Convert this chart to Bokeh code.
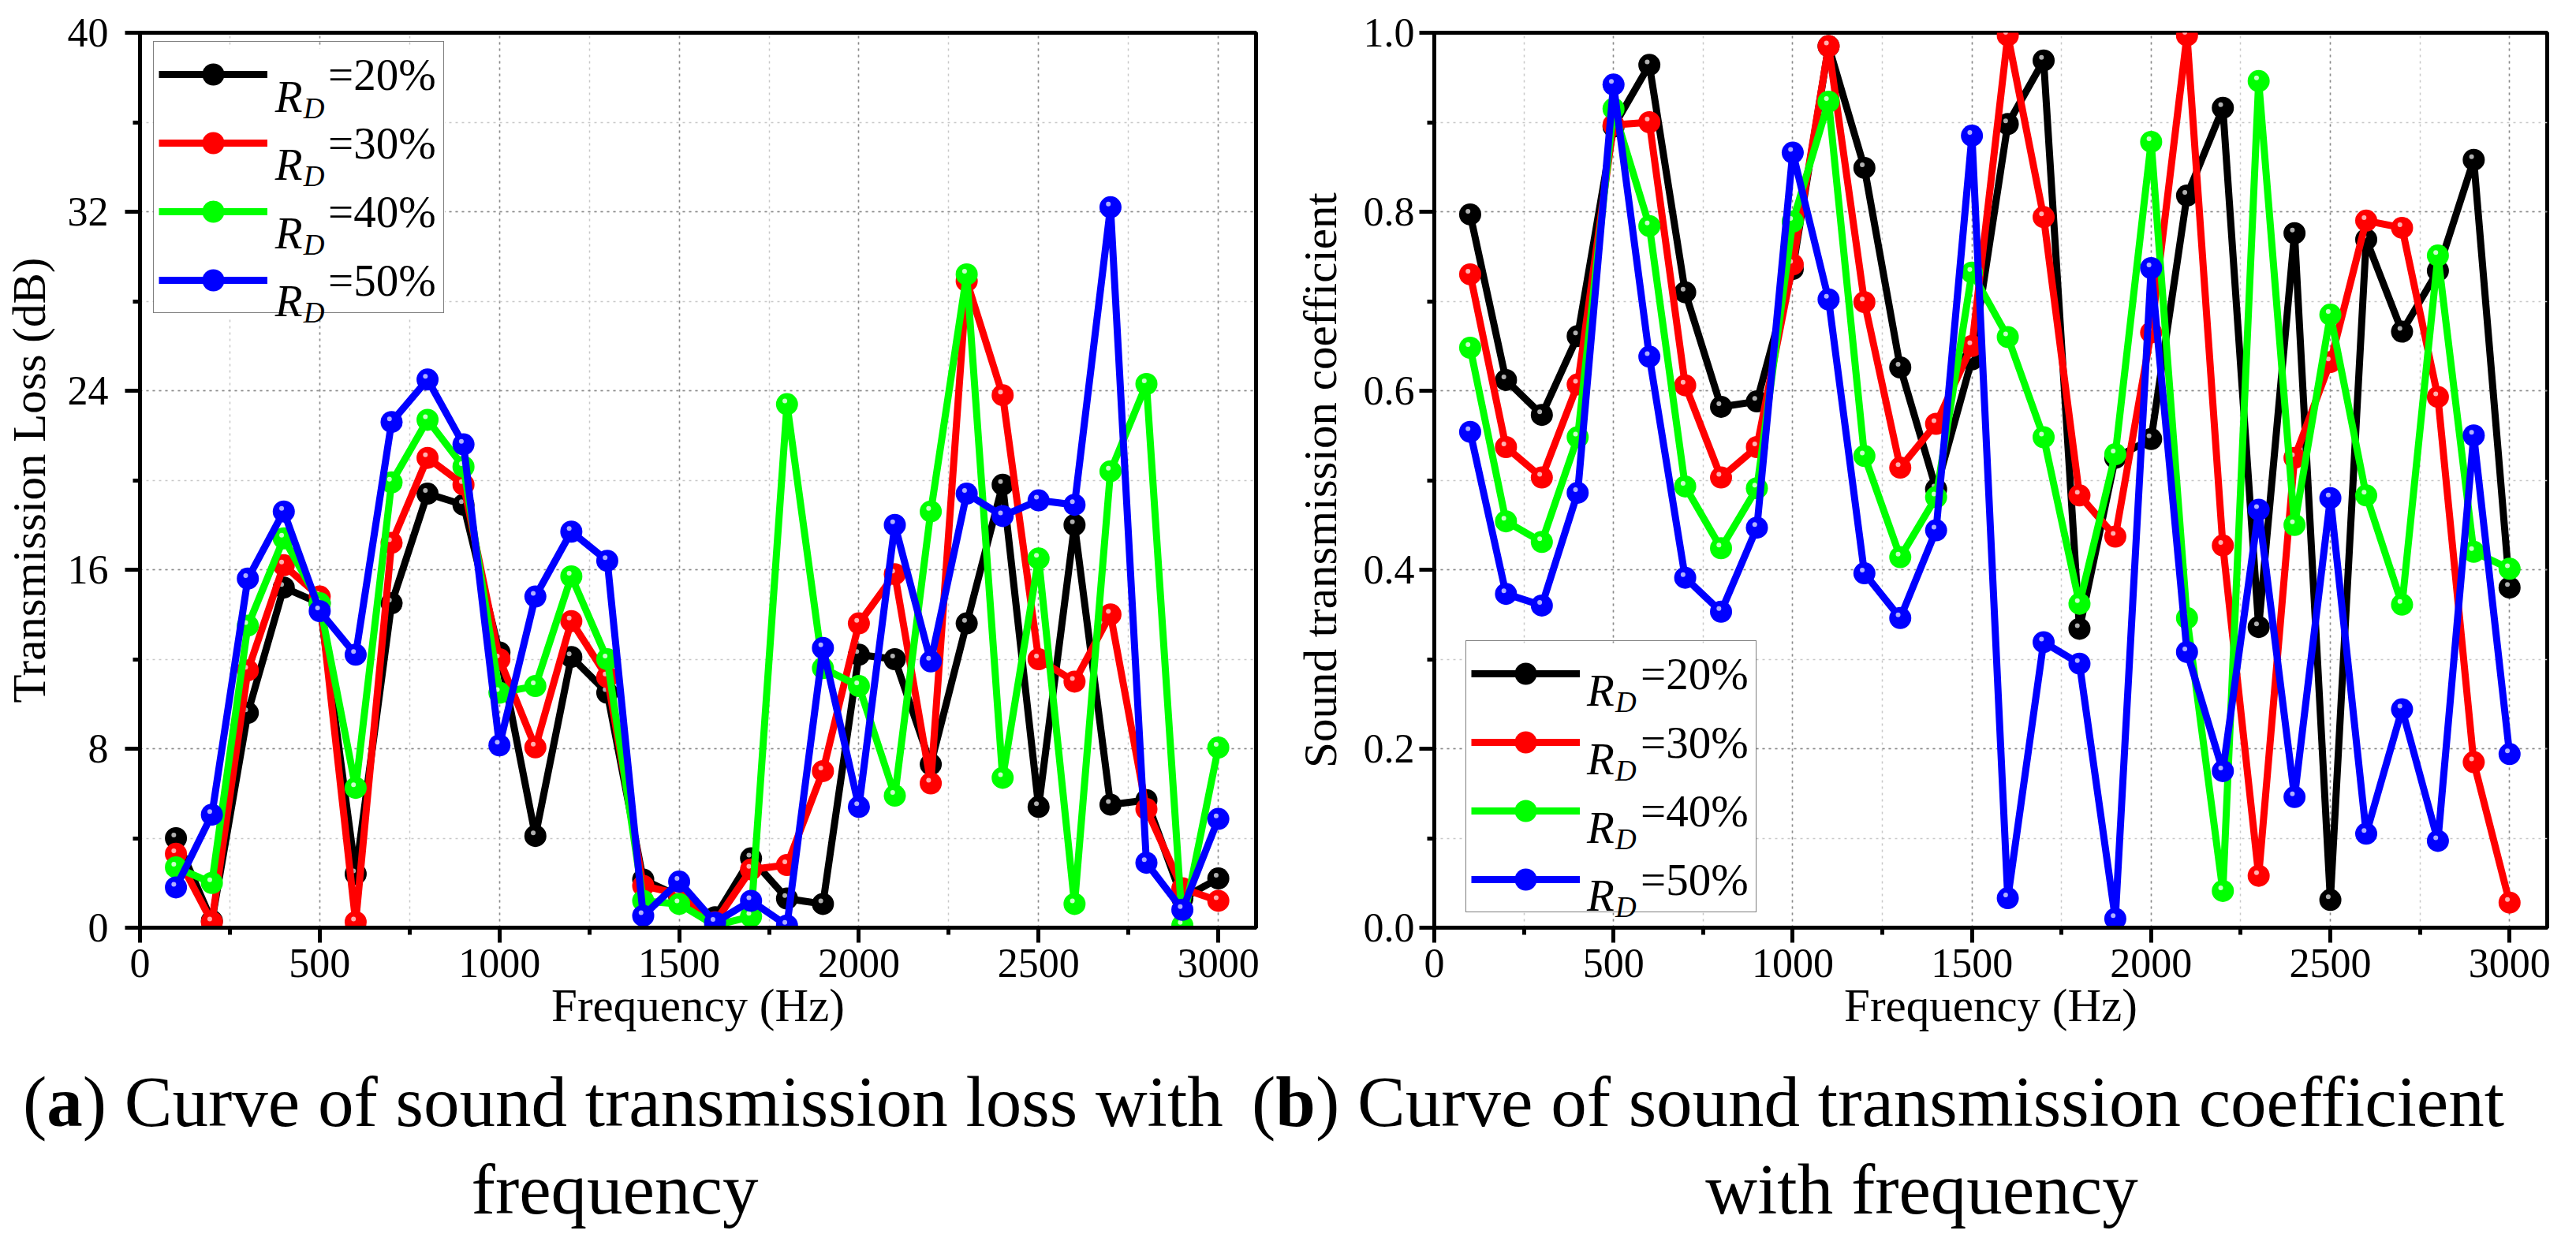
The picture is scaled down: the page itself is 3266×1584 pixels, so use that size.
from bokeh.plotting import figure
from bokeh.models import (Range1d, SingleIntervalTicker, Legend, LegendItem, Label, Div,
                          PrintfTickFormatter, BoxAnnotation)
from bokeh.layouts import row, column
from bokeh.embed import file_html
from bokeh.resources import INLINE

# frequency (Hz)
freq = [100, 200, 300, 400, 500, 600, 700, 800, 900, 1000, 1100, 1200, 1300, 1400, 1500,
        1600, 1700, 1800, 1900, 2000, 2100, 2200, 2300, 2400, 2500, 2600, 2700, 2800, 2900, 3000]

# (a) transmission loss (dB)
tl_20 = [4.0, 0.3, 9.6, 15.2, 14.5, 2.4, 14.5, 19.4, 18.9, 12.3, 4.1, 12.1, 10.5, 2.15, 1.4,
         0.47, 3.1, 1.3, 1.06, 12.2, 12.0, 7.3, 13.6, 19.8, 5.4, 18.0, 5.5, 5.7, 1.3, 2.2]
tl_30 = [3.3, 0.25, 11.5, 16.2, 14.8, 0.25, 17.2, 21.0, 19.8, 12.0, 8.06, 13.7, 11.2, 1.87, 1.5,
         0.25, 2.6, 2.8, 7.0, 13.6, 15.8, 6.45, 28.9, 23.8, 12.0, 11.0, 14.0, 5.3, 1.76, 1.2]
tl_40 = [2.7, 2.0, 13.5, 17.4, 14.5, 6.25, 19.9, 22.7, 20.6, 10.5, 10.8, 15.7, 12.0, 1.2, 1.06,
         0.1, 0.5, 23.4, 11.6, 10.8, 5.9, 18.6, 29.2, 6.7, 16.5, 1.06, 20.4, 24.3, 0.1, 8.05]
tl_50 = [1.8, 5.05, 15.6, 18.6, 14.15, 12.2, 22.6, 24.5, 21.6, 8.15, 14.8, 17.7, 16.4, 0.53, 2.06,
         0.23, 1.2, 0.1, 12.5, 5.4, 18.0, 11.9, 19.4, 18.4, 19.1, 18.9, 32.2, 2.9, 0.8, 4.86]

# (b) sound transmission coefficient
tc_20 = [0.797, 0.612, 0.573, 0.661, 0.895, 0.964, 0.710, 0.582, 0.588, 0.736, 0.985, 0.849, 0.626, 0.49, 0.635,
         0.898, 0.969, 0.334, 0.525, 0.546, 0.818, 0.916, 0.336, 0.776, 0.031, 0.769, 0.666, 0.734, 0.858, 0.380]
tc_30 = [0.730, 0.537, 0.503, 0.607, 0.897, 0.900, 0.606, 0.503, 0.537, 0.741, 0.985, 0.699, 0.514, 0.563, 0.650,
         0.997, 0.794, 0.483, 0.437, 0.665, 0.997, 0.427, 0.058, 0.525, 0.632, 0.790, 0.782, 0.593, 0.185, 0.028]
tc_40 = [0.648, 0.454, 0.431, 0.548, 0.915, 0.784, 0.493, 0.424, 0.491, 0.789, 0.923, 0.527, 0.414, 0.481, 0.732,
         0.660, 0.548, 0.362, 0.529, 0.878, 0.346, 0.041, 0.946, 0.450, 0.685, 0.483, 0.361, 0.751, 0.420, 0.401]
tc_50 = [0.554, 0.373, 0.360, 0.486, 0.942, 0.638, 0.391, 0.353, 0.447, 0.866, 0.702, 0.396, 0.346, 0.444, 0.885,
         0.033, 0.319, 0.295, 0.010, 0.737, 0.308, 0.175, 0.467, 0.146, 0.480, 0.105, 0.244, 0.097, 0.550, 0.194]

ratios = ["=20%", "=30%", "=40%", "=50%"]
colors = ["#000000", "#ff0000", "#00ff00", "#0000ff"]
shines = ["#b0b0b0", "#ffb0b0", "#c8ffc8", "#b0b0ff"]

SERIF = "Liberation Serif"


def make_panel(series, y_end, y_step, width, height, borders, tick_standoff, title_standoff,
               ylabel, shift):
    left, right, top, bottom = borders
    p = figure(width=width, height=height, output_backend="svg", toolbar_location=None,
               x_range=Range1d(0, 3105), y_range=Range1d(0, y_end),
               min_border_left=left, min_border_right=right,
               min_border_top=top, min_border_bottom=bottom)
    p.outline_line_color = "black"
    p.outline_line_width = 5
    p.xaxis.ticker = SingleIntervalTicker(interval=500, num_minor_ticks=2)
    p.yaxis.ticker = SingleIntervalTicker(interval=y_step, num_minor_ticks=2)
    p.xaxis.axis_label = "Frequency (Hz)"
    p.yaxis.axis_label = ylabel
    for ax in (p.xaxis[0], p.yaxis[0]):
        ax.axis_line_width = 5
        ax.major_tick_line_width = 5
        ax.minor_tick_line_width = 5
        ax.major_tick_in = 0
        ax.major_tick_out = 19
        ax.minor_tick_in = 0
        ax.minor_tick_out = 9
        ax.major_label_text_font = SERIF
        ax.major_label_text_font_style = "normal"
        ax.major_label_text_font_size = "52px"
        ax.major_label_text_color = "black"
        ax.axis_label_text_font = SERIF
        ax.axis_label_text_font_size = "59px"
        ax.axis_label_text_font_style = "normal"
        ax.axis_label_text_color = "black"
    p.xaxis.major_label_standoff = 8
    p.xaxis.axis_label_standoff = 0
    p.yaxis.major_label_standoff = tick_standoff
    p.yaxis.axis_label_standoff = title_standoff
    for g in (p.xgrid[0], p.ygrid[0]):
        g.grid_line_color = "#8a8a8a"
        g.grid_line_dash = "3 5"
        g.grid_line_width = 1.5
        g.minor_grid_line_color = "#c8c8c8"
        g.minor_grid_line_dash = "3 5"
        g.minor_grid_line_width = 1.5

    items = []
    for ys, ratio, c, s in zip(series, ratios, colors, shines):
        r_line = p.line(freq, ys, line_color=c, line_width=9)
        r_dot = p.scatter(freq, ys, size=28, fill_color=c, line_color=None)
        hx = [f - 6 for f in freq]
        hy = [v + shift for v in ys]
        p.scatter(hx, hy, size=6, fill_color=s, line_color=None)
        items.append(LegendItem(label=ratio, renderers=[r_line, r_dot]))
    return p, items


def add_legend(p, items, loc, box, rx, ry, dy):
    # white panel behind the legend, so the R_D labels stay visible on top of it
    p.add_layout(BoxAnnotation(left=box[0], right=box[1], bottom=box[2], top=box[3],
                               fill_color="white", fill_alpha=1, line_color=None))
    leg = Legend(items=items, location=loc, orientation="vertical",
                 glyph_width=138, glyph_height=70, label_height=70, label_width=140,
                 label_standoff=77, spacing=17, padding=6, margin=0,
                 border_line_color="black", border_line_width=1.5,
                 background_fill_alpha=0,
                 label_text_font=SERIF, label_text_font_size="57px",
                 label_text_color="black")
    p.add_layout(leg)
    for k in range(len(items)):
        y = ry - k * dy
        p.add_layout(Label(x=rx, y=y, text="R", text_font=SERIF, text_font_size="57px",
                           text_font_style="italic", text_baseline="alphabetic",
                           text_color="black"))
        p.add_layout(Label(x=rx, y=y, x_offset=36, y_offset=-15, text="D", text_font=SERIF,
                           text_font_size="37px", text_font_style="italic",
                           text_baseline="alphabetic", text_color="black"))


pa, items_a = make_panel([tl_20, tl_30, tl_40, tl_50], 40, 8, 1637, 1342,
                         (172, 45, 34, 166), 21, 13, "Transmission Loss (dB)", 0.14)
add_legend(pa, items_a, (17, 779), (37, 848, 27.3, 39.3), 376, 37.16, 3.047)

pb, items_b = make_panel([tc_20, tc_30, tc_40, tc_50], 1, 0.2, 1613, 1342,
                         (172, 21, 41, 161), 6, 19, "Sound transmission coefficient", 0.0035)
pb.yaxis.formatter = PrintfTickFormatter(format="%.1f")
add_legend(pb, items_b, (40, 19), (87, 898, 0.0167, 0.318), 426, 0.2649, 0.0763)

font_css = "font-family:'Liberation Serif';font-size:91px;line-height:111px;color:black;white-space:nowrap;"
cap_a = Div(text=('<div style="%s box-sizing:border-box;width:1587px;padding-left:29px;text-align:left;">'
                  '(<b>a</b>) Curve of sound transmission loss with</div>'
                  '<div style="%s box-sizing:border-box;width:1587px;padding-right:28px;text-align:center;">'
                  'frequency</div>') % (font_css, font_css),
            width=1587, height=226, margin=(0, 0, 0, 0))
cap_b = Div(text=('<div style="%s box-sizing:border-box;width:1663px;padding-left:0px;text-align:left;">'
                  '(<b>b</b>) Curve of sound transmission coefficient</div>'
                  '<div style="%s box-sizing:border-box;width:1663px;padding-left:36px;text-align:center;">'
                  'with frequency</div>') % (font_css, font_css),
            width=1663, height=226, margin=(0, 0, 0, 0))

layout = column(row(pa, pb, spacing=0), row(cap_a, cap_b, spacing=0), spacing=0)

open("out.html", "w").write(file_html(layout, INLINE))
